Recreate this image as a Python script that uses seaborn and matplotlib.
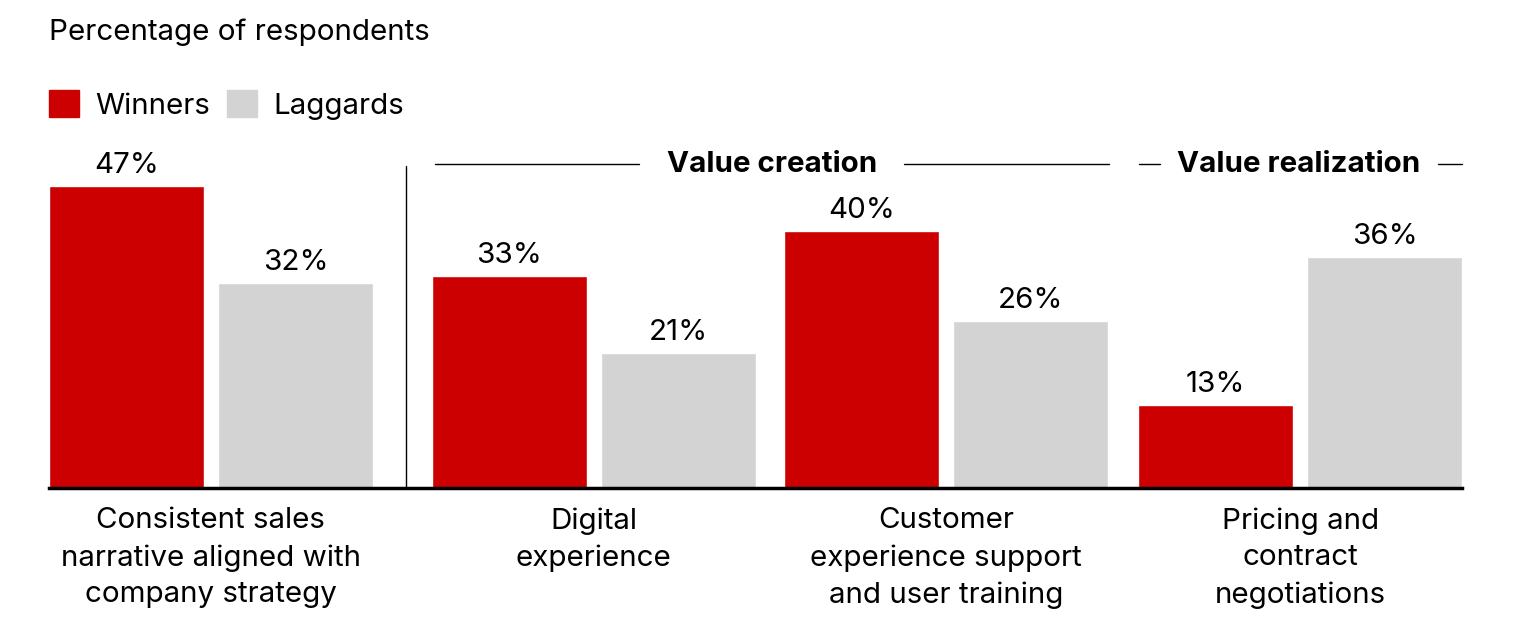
import numpy as np
import pandas as pd
import matplotlib.pyplot as plt
import seaborn as sns

# data
categories = ['Consistent sales\nnarrative aligned with\ncompany strategy',
              'Digital\nexperience',
              'Customer\nexperience support\nand user training',
              'Pricing and\ncontract\nnegotiations']
winners = [47, 33, 40, 13]
laggards = [32, 21, 26, 36]
series = ['Winners', 'Laggards']
colors = ['#cc0000', '#d3d3d3']

# layout: first group pushed left to make room for the divider
pos = [0, 1.085, 2.085, 3.088]

df = pd.DataFrame({
    'pos': pos * 2,
    'value': winners + laggards,
    'group': ['Winners'] * 4 + ['Laggards'] * 4,
})

sns.set_style('white')
plt.rcParams['font.family'] = ['Inter', 'DejaVu Sans']
plt.rcParams['text.color'] = 'black'
plt.rcParams['xtick.color'] = 'black'

fs = 21.3

fig = plt.figure(figsize=(15.26, 6.42), dpi=100)
ax = fig.add_axes([49 / 1526, 1 - 488 / 642, (1462 - 49) / 1526, 321 / 642])

sns.barplot(data=df, x='pos', y='value', hue='group', hue_order=series,
            palette=colors, native_scale=True,
            width=0.958, gap=0.083, ax=ax, legend=False, saturation=1)

for c in ax.containers:
    ax.bar_label(c, fmt='%d%%', padding=5, fontsize=fs, color='black')

ax.set_xlim(-0.459, 3.547)
ax.set_ylim(0, 50)
ax.set_xticks(pos, categories, fontsize=fs, linespacing=1.45)
ax.tick_params(axis='x', length=0, pad=14, labelcolor='black')
ax.set_yticks([])
ax.set_xlabel('')
ax.set_ylabel('')
sns.despine(ax=ax, left=True)
ax.spines['bottom'].set_linewidth(2.5)
ax.spines['bottom'].set_color('black')

# divider between first group and the rest
ax.plot([0.552, 0.552], [0, 50.2], color='black', lw=1, clip_on=False)

# group headers
hy = 50.4
ax.plot([0.635, 1.215], [hy, hy], color='black', lw=1, clip_on=False)
ax.plot([1.966, 2.547], [hy, hy], color='black', lw=1, clip_on=False)
ax.text(1.59, hy, 'Value creation', ha='center', va='center',
        fontsize=fs, fontweight='bold', clip_on=False)
ax.plot([2.63, 2.69], [hy, hy], color='black', lw=1, clip_on=False)
ax.plot([3.48, 3.547], [hy, hy], color='black', lw=1, clip_on=False)
ax.text(3.085, hy, 'Value realization', ha='center', va='center',
        fontsize=fs, fontweight='bold', clip_on=False)

fig.text(49 / 1526, 1 - 32 / 642, 'Percentage of respondents',
         fontsize=fs, va='center', ha='left')

handles = [plt.Rectangle((0, 0), 1, 1, color=c) for c in colors]
fig.legend(handles, series, loc='center left',
           bbox_to_anchor=(49 / 1526, 1 - 105 / 642), frameon=False,
           borderpad=0, borderaxespad=0,
           ncol=2, fontsize=fs, handlelength=1.0, handleheight=1.0,
           handletextpad=0.55, columnspacing=0.6)

fig.savefig('out.png', dpi=100)
